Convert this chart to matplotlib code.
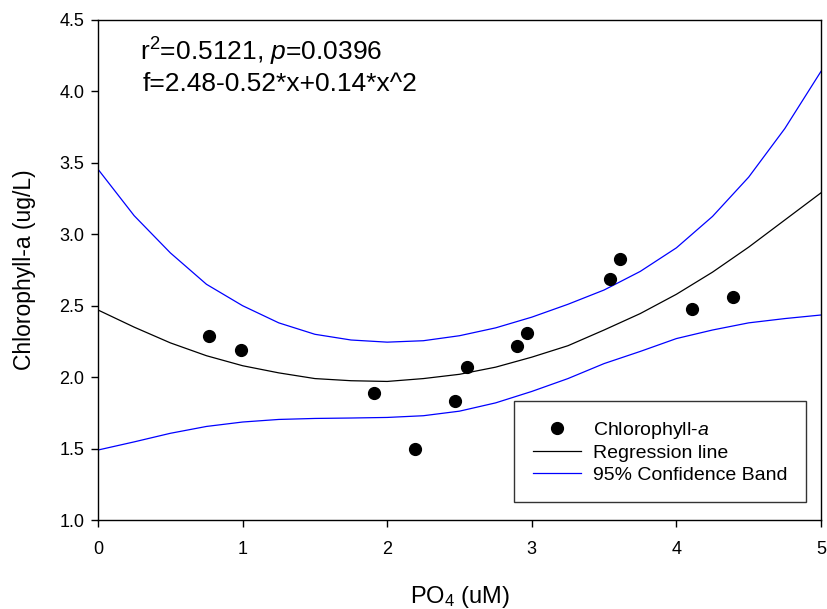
import matplotlib
matplotlib.use("Agg")
import matplotlib.pyplot as plt
import numpy as np

plt.rcParams['font.family'] = ['Liberation Sans', 'DejaVu Sans']
plt.rcParams['mathtext.fontset'] = 'custom'
plt.rcParams['mathtext.rm'] = 'Liberation Sans'
plt.rcParams['mathtext.it'] = 'Liberation Sans:italic'

# measured points
po4 = [0.77, 0.99, 1.91, 2.19, 2.47, 2.55, 2.90, 2.97, 3.54, 3.61, 4.11, 4.39]
chla = [2.29, 2.19, 1.89, 1.50, 1.83, 2.07, 2.22, 2.31, 2.69, 2.83, 2.48, 2.56]

# curves
x_curve = [0, 0.25, 0.5, 0.75, 1.0, 1.25, 1.5, 1.75, 2.0, 2.25, 2.5,
           2.75, 3.0, 3.25, 3.5, 3.75, 4.0, 4.25, 4.5, 4.75, 5.0]
reg_line = [2.47, 2.35, 2.24, 2.15, 2.08, 2.03, 1.99, 1.975, 1.97, 1.99, 2.02,
            2.07, 2.14, 2.22, 2.33, 2.445, 2.58, 2.735, 2.91, 3.10, 3.29]
upper_band = [3.455, 3.13, 2.87, 2.65, 2.50, 2.38, 2.30, 2.26, 2.245, 2.255, 2.29,
              2.345, 2.42, 2.51, 2.61, 2.74, 2.905, 3.125, 3.40, 3.74, 4.14]
lower_band = [1.49, 1.547, 1.607, 1.655, 1.686, 1.704, 1.711, 1.714, 1.718, 1.73, 1.762,
              1.82, 1.90, 1.99, 2.095, 2.18, 2.27, 2.33, 2.38, 2.41, 2.435]

fig = plt.figure(figsize=(8.28, 6.09), dpi=100)
ax = fig.add_axes([0.1184, 0.1461, 0.8731, 0.8211])

ax.plot(po4, chla, 'o', color='black', ms=8.5, label='Chlorophyll-$a$', zorder=3)
ax.plot(x_curve, reg_line, color='black', lw=0.9, label='Regression line')
ax.plot(x_curve, upper_band, color='#0000ff', lw=0.9, label='95% Confidence Band')
ax.plot(x_curve, lower_band, color='#0000ff', lw=0.9)

ax.set_xlim(0, 5)
ax.set_ylim(1.0, 4.5)
ax.set_xticks(np.arange(0, 6, 1))
ax.set_yticks(np.arange(1.0, 4.6, 0.5))
ax.yaxis.set_major_formatter(matplotlib.ticker.FormatStrFormatter('%.1f'))
ax.tick_params(direction='out', length=5, width=1, labelsize=13)
ax.tick_params(axis='x', pad=10)
ax.tick_params(axis='y', pad=5)
for s in ax.spines.values():
    s.set_linewidth(1)

ax.set_xlabel('PO$_4$ (uM)', fontsize=17, labelpad=19)
ax.set_ylabel('Chlorophyll-a (ug/L)', fontsize=16.5, labelpad=17)

ax.text(0.058, 0.936, 'r$^2$=0.5121, $p$=0.0396', transform=ax.transAxes,
        ha='left', va='center', fontsize=19)
ax.text(0.062, 0.872, 'f=2.48-0.52*x+0.14*x^2', transform=ax.transAxes,
        ha='left', va='center', fontsize=19)

leg = ax.legend(loc='lower right', bbox_to_anchor=(0.979, 0.036), borderaxespad=0,
                fontsize=14, frameon=True, fancybox=False, edgecolor='black',
                handlelength=2.5, handletextpad=0.6, labelspacing=0.2, borderpad=0.95)
leg.get_frame().set_linewidth(1)

fig.savefig('out.png', dpi=100)
